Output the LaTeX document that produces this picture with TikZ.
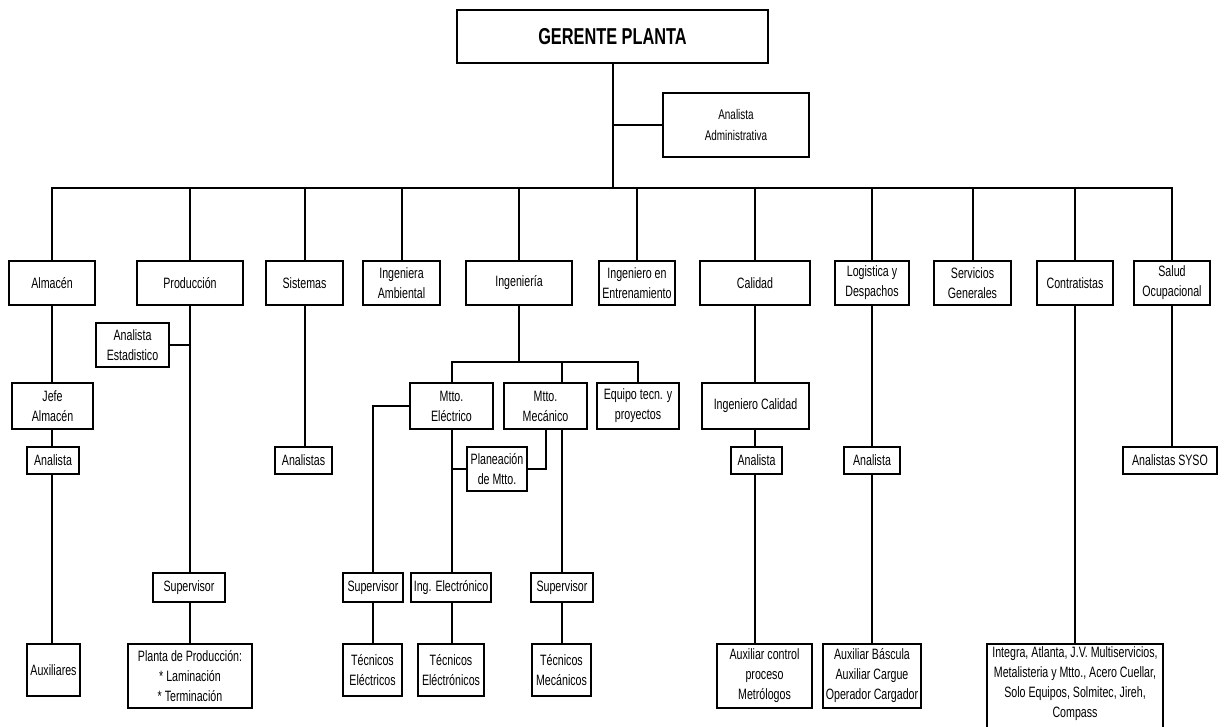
\documentclass[tikz,border=0pt]{standalone}
\usepackage{fontspec}
\setmainfont{Liberation Sans}[FakeStretch=0.71]
\begin{document}
\begin{tikzpicture}[x=1pt,y=-1pt,
  box/.style={draw, line width=2pt, rectangle, inner sep=0pt, align=center,
              font=\fontsize{15}{20}\selectfont},
  link/.style={line width=2pt, line join=miter}]
% box from corner (x1,y1) to corner (x2,y2)
\newcommand\obox[7][]{\node[box,#1, minimum width={#5-#3}, minimum height={#6-#4}]
  (#2) at ({(#3+#5)/2},{(#4+#6)/2}) {#7};}
\useasboundingbox (0,0) rectangle (1224,726);
\fill[white] (0,0) rectangle (1224,726);
\clip (0,0) rectangle (1224,726);

% top
\node[box, font=\fontsize{23}{24}\selectfont\bfseries, minimum width=311, minimum height=53]
  (ger) at (612.5,36.5) {GERENTE PLANTA};
\obox[font=\fontsize{14}{21}\selectfont]{adm}{663}{93}{809}{157}{Analista\\Administrativa}

% departments
\obox{alm}{9}{261}{95}{305}{Almacén}
\obox{prod}{137}{261}{243}{305}{Producción}
\obox{sis}{266}{261}{343}{305}{Sistemas}
\obox{amb}{363}{261}{440}{305}{Ingeniera\\Ambiental}
\obox{ing}{466}{261}{572}{305}{Ingeniería}
\obox{ent}{599}{261}{675}{305}{Ingeniero en\\Entrenamiento}
\obox{cal}{700}{261}{810}{305}{Calidad}
\obox{log}{835}{261}{909}{305}{Logistica y\\Despachos}
\obox{ser}{934}{261}{1011}{305}{Servicios\\Generales}
\obox{con}{1037}{261}{1113}{305}{Contratistas}
\obox{sal}{1134}{261}{1210}{305}{Salud\\Ocupacional}

% second level
\obox{jefe}{12}{383}{93}{429}{Jefe\\Almacén}
\obox{est}{96}{323}{169}{367}{Analista\\Estadistico}
\obox{mttoE}{410}{383}{493}{429}{Mtto.\\Eléctrico}
\obox{mttoM}{504}{383}{587}{429}{Mtto.\\Mecánico}
\obox{equ}{597}{383}{679}{429}{Equipo tecn. y\\proyectos}
\obox{ingCal}{702}{383}{809}{429}{Ingeniero Calidad}

% analysts
\obox{ana}{27}{447}{79}{474}{Analista}
\obox{anas}{275}{447}{332}{474}{Analistas}
\obox{plan}{467}{447}{527}{491}{Planeación\\de Mtto.}
\obox{anaCal}{731}{447}{782}{474}{Analista}
\obox{anaLog}{844}{447}{900}{474}{Analista}
\obox{syso}{1123}{447}{1217}{474}{Analistas SYSO}

% supervisors
\obox{sup}{153}{573}{225}{602}{Supervisor}
\obox{supE}{343}{573}{403}{602}{Supervisor}
\obox{ingE}{411}{573}{491}{602}{Ing. Electrónico}
\obox{supM}{531}{573}{593}{602}{Supervisor}

% bottom level
\obox{aux}{27}{644}{80}{696}{Auxiliares}
\obox{planta}{128}{644}{252}{708}{Planta de Producción:\\* Laminación\\* Terminación}
\obox{tecE}{343}{644}{402}{696}{Técnicos\\Eléctricos}
\obox{tecEl}{418}{644}{484}{696}{Técnicos\\Eléctrónicos}
\obox{tecM}{532}{644}{591}{696}{Técnicos\\Mecánicos}
\obox{auxCal}{717}{644}{812}{708}{Auxiliar control\\proceso\\Metrólogos}
\obox{auxLog}{823}{644}{921}{708}{Auxiliar Báscula\\Auxiliar Cargue\\Operador Cargador}
\obox[label={[anchor=north, align=center, inner sep=0pt, yshift=-3pt,
      font=\fontsize{15}{20}\selectfont]north:{Integra, Atlanta, J.V. Multiservicios,\\
      Metalisteria y Mtto., Acero Cuellar,\\Solo Equipos, Solmitec, Jireh,\\Compass}}]
  {conbox}{987}{644}{1163}{760}{}

% connectors
\coordinate (busy) at (0,188);
\coordinate (sb) at (0,362);
\draw[link] (ger.south) -- (ger.south |- busy);
\draw[link] (adm.west) -- (adm.west -| ger.south);
\draw[link] (alm.north) -- (alm.north |- busy) -- (sal.north |- busy) -- (sal.north);
\foreach \d in {prod,sis,amb,ing,ent,cal,log,ser,con}
  \draw[link] (\d.north) -- (\d.north |- busy);

\draw[link] (alm.south) -- (alm.south |- jefe.north);
\draw[link] (alm.south |- jefe.south) -- (alm.south |- ana.north);
\draw[link] (alm.south |- ana.south) -- (alm.south |- aux.north);

\draw[link] (prod.south) -- (prod.south |- sup.north);
\draw[link] (est.east) -- (est.east -| prod.south);
\draw[link] (prod.south |- sup.south) -- (prod.south |- planta.north);

\draw[link] (sis.south) -- (sis.south |- anas.north);

\draw[link] (ing.south) -- (ing.south |- sb);
\draw[link] (mttoE.north) -- (mttoE.north |- sb) -- (equ.north |- sb) -- (equ.north);
\draw[link] (supM.north |- sb) -- (supM.north |- mttoM.north);
\draw[link] (supM.north |- mttoM.south) -- (supM.north);
\draw[link] (plan.east) -| (mttoM.south);
\draw[link] (plan.west) -- (plan.west -| mttoE.south);
\draw[link] (mttoE.south) -- (mttoE.south |- ingE.north);
\draw[link] (mttoE.west) -| (supE.north);
\draw[link] (supE.south) -- (supE.south |- tecE.north);
\draw[link] (mttoE.south |- ingE.south) -- (mttoE.south |- tecEl.north);
\draw[link] (supM.south) -- (supM.south |- tecM.north);

\draw[link] (cal.south) -- (cal.south |- ingCal.north);
\draw[link] (cal.south |- ingCal.south) -- (cal.south |- anaCal.north);
\draw[link] (cal.south |- anaCal.south) -- (cal.south |- auxCal.north);

\draw[link] (log.south) -- (log.south |- anaLog.north);
\draw[link] (log.south |- anaLog.south) -- (log.south |- auxLog.north);

\draw[link] (con.south) -- (con.south |- conbox.north);
\draw[link] (sal.south) -- (sal.south |- syso.north);
\end{tikzpicture}
\end{document}
